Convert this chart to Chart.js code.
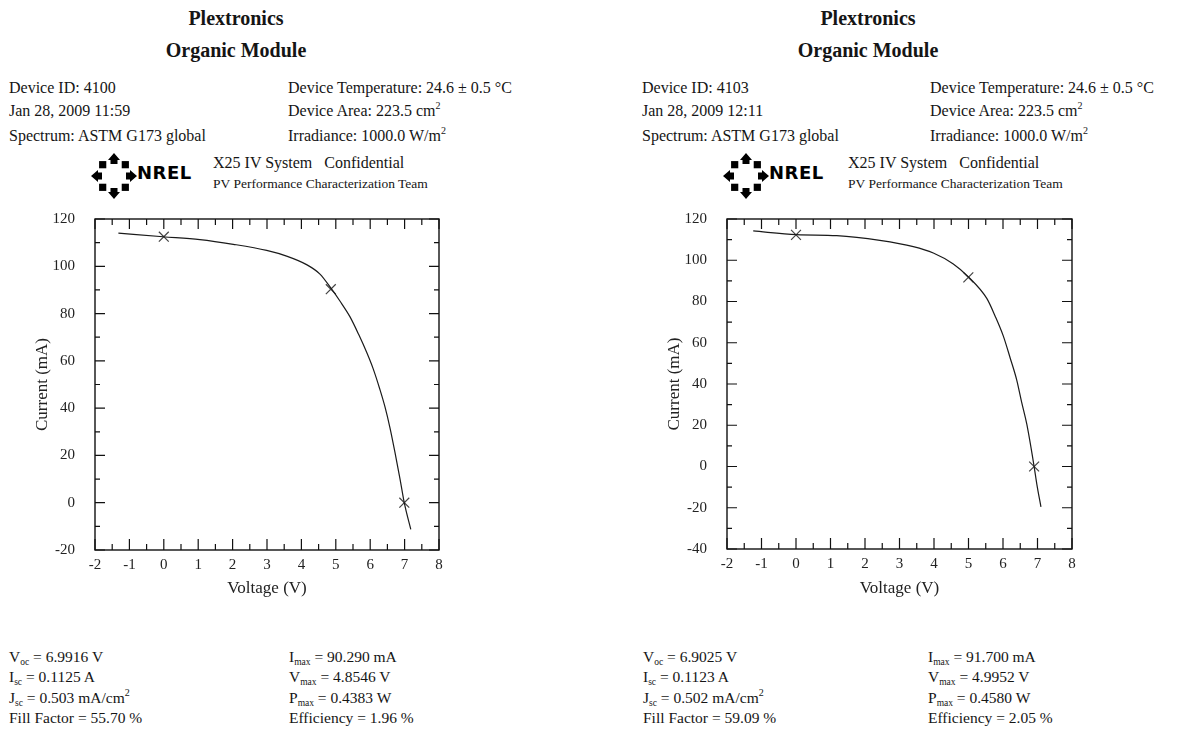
<!DOCTYPE html>
<html>
<head>
<meta charset="utf-8">
<script src="https://cdn.jsdelivr.net/npm/chart.js@4.4.1/dist/chart.umd.min.js"></script>
<style>
  body { margin: 0; width: 1181px; height: 744px; background: #fff; position: relative; overflow: hidden;
         font-family: "Liberation Serif", "Times New Roman", serif; color: #151515; }
  .panel { position: absolute; top: 0; width: 560px; height: 744px; }
  .t { position: absolute; white-space: pre; font-size: 16px; line-height: 1; }
  .s { font-size: 15.5px; }
  .h { position: absolute; left: 116px; width: 240px; text-align: center; font-weight: bold; font-size: 20px; line-height: 1; }
  .small { font-size: 13.5px; }
  sup { font-size: 10px; vertical-align: 7px; line-height: 0; }
  sub { font-size: 9.5px; vertical-align: -3px; line-height: 0; }
  .logo { position: absolute; left: 91px; top: 152px; }
  .nrel { position: absolute; left: 137px; top: 164px; font-family: "DejaVu Sans", sans-serif; font-weight: bold;
          font-size: 18px; line-height: 1; letter-spacing: 0.5px; color: #000; }
  canvas { position: absolute; left: 0; top: 190px; }
</style>
</head>
<body>

<div class="panel" style="left:0">
  <div class="h" style="top:8px">Plextronics</div>
  <div class="h" style="top:40px">Organic Module</div>
  <div class="t" style="left:9px;top:80px">Device ID: 4100</div>
  <div class="t" style="left:9px;top:103px">Jan 28, 2009 11:59</div>
  <div class="t" style="left:9px;top:128px">Spectrum: ASTM G173 global</div>
  <div class="t" style="left:288px;top:80px">Device Temperature: 24.6 ± 0.5 °C</div>
  <div class="t" style="left:288px;top:103px">Device Area: 223.5 cm<sup>2</sup></div>
  <div class="t" style="left:288px;top:128px">Irradiance: 1000.0 W/m<sup>2</sup></div>
  <svg class="logo" width="46" height="48" viewBox="-23 -24 46 48"></svg>
  <div class="nrel">NREL</div>
  <div class="t" style="left:213px;top:155px">X25 IV System   Confidential</div>
  <div class="t small" style="left:213px;top:177px">PV Performance Characterization Team</div>
  <canvas id="chartA" width="460" height="420"></canvas>
  <div class="t s" style="left:9px;top:649px">V<sub>oc</sub> = 6.9916 V</div>
  <div class="t s" style="left:9px;top:669px">I<sub>sc</sub> = 0.1125 A</div>
  <div class="t s" style="left:9px;top:690px">J<sub>sc</sub> = 0.503 mA/cm<sup>2</sup></div>
  <div class="t s" style="left:9px;top:710px">Fill Factor = 55.70 %</div>
  <div class="t s" style="left:289px;top:649px">I<sub>max</sub> = 90.290 mA</div>
  <div class="t s" style="left:289px;top:669px">V<sub>max</sub> = 4.8546 V</div>
  <div class="t s" style="left:289px;top:690px">P<sub>max</sub> = 0.4383 W</div>
  <div class="t s" style="left:289px;top:710px">Efficiency = 1.96 %</div>
</div>

<div class="panel" style="left:632px">
  <div class="h" style="top:8px">Plextronics</div>
  <div class="h" style="top:40px">Organic Module</div>
  <div class="t" style="left:10px;top:80px">Device ID: 4103</div>
  <div class="t" style="left:10px;top:103px">Jan 28, 2009 12:11</div>
  <div class="t" style="left:10px;top:128px">Spectrum: ASTM G173 global</div>
  <div class="t" style="left:298px;top:80px">Device Temperature: 24.6 ± 0.5 °C</div>
  <div class="t" style="left:298px;top:103px">Device Area: 223.5 cm<sup>2</sup></div>
  <div class="t" style="left:298px;top:128px">Irradiance: 1000.0 W/m<sup>2</sup></div>
  <svg class="logo" width="46" height="48" viewBox="-23 -24 46 48"></svg>
  <div class="nrel">NREL</div>
  <div class="t" style="left:216px;top:155px">X25 IV System   Confidential</div>
  <div class="t small" style="left:216px;top:177px">PV Performance Characterization Team</div>
  <canvas id="chartB" width="460" height="420"></canvas>
  <div class="t s" style="left:11px;top:649px">V<sub>oc</sub> = 6.9025 V</div>
  <div class="t s" style="left:11px;top:669px">I<sub>sc</sub> = 0.1123 A</div>
  <div class="t s" style="left:11px;top:690px">J<sub>sc</sub> = 0.502 mA/cm<sup>2</sup></div>
  <div class="t s" style="left:11px;top:710px">Fill Factor = 59.09 %</div>
  <div class="t s" style="left:296px;top:649px">I<sub>max</sub> = 91.700 mA</div>
  <div class="t s" style="left:296px;top:669px">V<sub>max</sub> = 4.9952 V</div>
  <div class="t s" style="left:296px;top:690px">P<sub>max</sub> = 0.4580 W</div>
  <div class="t s" style="left:296px;top:710px">Efficiency = 2.05 %</div>
</div>

<script>
// tick labels
const voltageTicks = [-2, -1, 0, 1, 2, 3, 4, 5, 6, 7, 8];
const currentTicksA = [-20, 0, 20, 40, 60, 80, 100, 120];
const currentTicksB = [-40, -20, 0, 20, 40, 60, 80, 100, 120];

// device 4100 IV curve
const voltsA = [-1.32, -0.02, 1.05, 2.02, 2.99, 3.57, 4.15, 4.54, 4.88, 5.12, 5.41, 5.67, 5.9, 6.09, 6.28, 6.43, 6.57, 6.72, 6.87, 6.99, 7.18];
const currentA = [114, 112.5, 111.3, 109.3, 106.7, 104.3, 100.7, 96.7, 90.3, 85.3, 78.7, 71, 63.5, 56.5, 48, 40.5, 32, 21.3, 9.8, 0, -11.3];
// Isc, max power point, Voc
const markVoltsA = [0, 4.8546, 6.9916];
const markCurrentA = [112.5, 90.29, 0];

// device 4103 IV curve
const voltsB = [-1.24, 0.02, 1.18, 2.43, 3.4, 3.98, 4.56, 5.0, 5.53, 5.77, 6.01, 6.21, 6.4, 6.54, 6.69, 6.9, 6.98, 7.1];
const currentB = [114.2, 112.4, 111.9, 109.6, 106.6, 103.5, 98.2, 91.9, 81.5, 73, 63.2, 52.5, 41.8, 31.2, 20.5, 0.2, -8.5, -19.6];
const markVoltsB = [0, 4.9952, 6.9025];
const markCurrentB = [112.3, 91.7, 0];

// NREL-ish logo: arrows at the four sides, diamonds on the diagonals
document.querySelectorAll('svg.logo').forEach(svg => {
  let s = '';
  for (let k = 0; k < 8; k++) {
    const deg = k * 45;
    if (k % 2 === 0) {
      s += `<g transform="rotate(${deg})"><polygon points="-3.5,-12 3.5,-12 3.5,-16 6,-16 0,-23 -6,-16 -3.5,-16" fill="#000"/></g>`;
    } else {
      s += `<g transform="rotate(${deg}) translate(0,-16) rotate(45)"><rect x="-3.6" y="-3.6" width="7.2" height="7.2" fill="#000"/></g>`;
    }
  }
  svg.innerHTML = s;
});

const boxTicks = {
  id: 'boxTicks',
  afterDraw(chart) {
    const { ctx, chartArea: a, scales: { x, y } } = chart;
    ctx.save();
    ctx.strokeStyle = '#111';
    ctx.lineWidth = 1.4;
    ctx.strokeRect(a.left, a.top, a.width, a.height);
    ctx.lineWidth = 1.2;
    ctx.beginPath();
    const xt = x.ticks.map(t => t.value);
    xt.forEach((v, i) => {
      const px = x.getPixelForValue(v);
      ctx.moveTo(px, a.bottom); ctx.lineTo(px, a.bottom - 11);
      ctx.moveTo(px, a.top); ctx.lineTo(px, a.top + 10);
      if (i < xt.length - 1) {
        const pm = x.getPixelForValue((v + xt[i + 1]) / 2);
        ctx.moveTo(pm, a.bottom); ctx.lineTo(pm, a.bottom - 6);
        ctx.moveTo(pm, a.top); ctx.lineTo(pm, a.top + 6);
      }
    });
    const yt = y.ticks.map(t => t.value);
    yt.forEach((v, i) => {
      const py = y.getPixelForValue(v);
      ctx.moveTo(a.left, py); ctx.lineTo(a.left + 10, py);
      ctx.moveTo(a.right, py); ctx.lineTo(a.right - 10, py);
      if (i < yt.length - 1) {
        const pm = y.getPixelForValue((v + yt[i + 1]) / 2);
        ctx.moveTo(a.left, pm); ctx.lineTo(a.left + 5, pm);
        ctx.moveTo(a.right, pm); ctx.lineTo(a.right - 5, pm);
      }
    });
    ctx.stroke();
    ctx.restore();
  }
};

const serif = 'Liberation Serif';

function makeChart(id, volts, current, mVolts, mCurrent, yTicks, pad, xHeight) {
  return new Chart(document.getElementById(id), {
    type: 'scatter',
    data: {
      datasets: [
        {
          data: volts.map((v, i) => ({ x: v, y: current[i] })),
          showLine: true,
          borderColor: '#1a1a1a',
          borderWidth: 1.2,
          pointRadius: 0,
          cubicInterpolationMode: 'monotone'
        },
        {
          data: mVolts.map((v, i) => ({ x: v, y: mCurrent[i] })),
          showLine: false,
          pointStyle: 'crossRot',
          pointRadius: 7,
          borderColor: '#444',
          borderWidth: 1.2
        }
      ]
    },
    options: {
      responsive: false,
      animation: false,
      layout: { padding: pad },
      plugins: { legend: { display: false }, tooltip: { enabled: false } },
      scales: {
        x: {
          type: 'linear',
          min: voltageTicks[0],
          max: voltageTicks[voltageTicks.length - 1],
          afterBuildTicks: s => { s.ticks = voltageTicks.map(v => ({ value: v })); },
          afterFit: s => { s.height = xHeight; },
          grid: { display: false, drawTicks: false },
          border: { display: false },
          ticks: { color: '#222', padding: 6, maxRotation: 0, font: { family: serif, size: 15 } },
          title: { display: true, text: 'Voltage (V)', color: '#222', padding: { top: 11, bottom: 11 },
                   font: { family: serif, size: 17 } }
        },
        y: {
          type: 'linear',
          min: yTicks[0],
          max: yTicks[yTicks.length - 1],
          afterBuildTicks: s => { s.ticks = yTicks.map(v => ({ value: v })); },
          afterFit: s => { s.width = 95; },
          grid: { display: false, drawTicks: false },
          border: { display: false },
          ticks: { color: '#222', padding: 20, font: { family: serif, size: 15 } },
          title: { display: true, text: 'Current (mA)', color: '#222', padding: { top: 32, bottom: 32 },
                   font: { family: serif, size: 17 } }
        }
      }
    },
    plugins: [boxTicks]
  });
}

makeChart('chartA', voltsA, currentA, markVoltsA, markCurrentA, currentTicksA,
  { top: 10, right: 21, left: 0, bottom: 0 }, 60);
makeChart('chartB', voltsB, currentB, markVoltsB, markCurrentB, currentTicksB,
  { top: 8, right: 20, left: 0, bottom: 0 }, 61);
</script>
</body>
</html>
